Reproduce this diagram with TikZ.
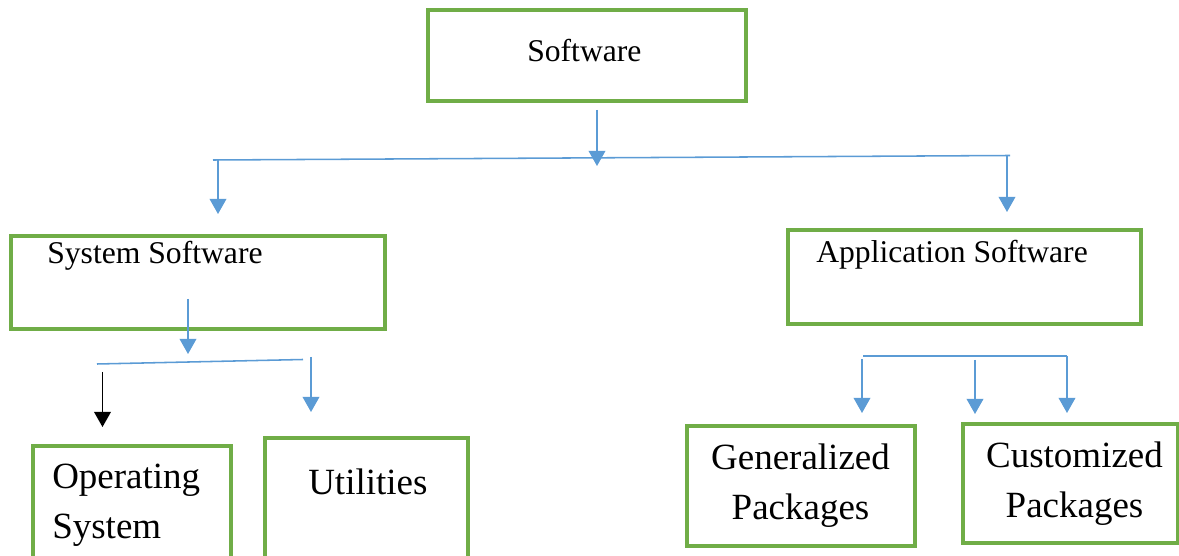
\documentclass[tikz,border=0pt]{standalone}
\usepackage{fontspec}
\setmainfont{Liberation Serif}
\usetikzlibrary{arrows.meta}
\definecolor{boxgreen}{RGB}{112,173,71}
\definecolor{linkblue}{RGB}{91,155,213}

\begin{document}
\begin{tikzpicture}[x=0.025cm,y=-0.025cm,
        box/.style 2 args={draw=boxgreen,line width=2.5pt,minimum width=#1*0.025cm,minimum height=#2*0.025cm,inner sep=0pt},
        txt/.style={inner sep=0pt,anchor=base west,font=\fontsize{22.5}{27}\selectfont},
        bigtxt/.style={inner sep=0pt,align=center,font=\fontsize{26.3}{35.5}\selectfont},
        link/.style={linkblue,line width=1.1pt},
        drop/.style={link,-{Triangle[width=0.42cm,length=0.38cm]}}]
    \useasboundingbox (0,0) rectangle (1179,556);
    \clip (0,0) rectangle (1179,556);

    % boxes
    \node[box={318}{91}] (soft) at (587,55.5) {};
    \node[box={374}{93}] (sys) at (198,282.5) {};
    \node[box={353}{94}] (app) at (964.5,277) {};
    \node[box={198}{154}] (os) at (132,523) {};
    \node[box={203}{162}] (util) at (366.5,519) {};
    \node[box={228}{120}] (gen) at (801,486) {};
    \node[box={215}{119}] (cust) at (1070.5,483.5) {};

    % texts
    \node[txt] (softtxt) at (527,62) {Software};
    \node[txt] (systxt) at (47,264) {System Software};
    \node[txt] (apptxt) at (816,263) {Application Software};
    \node[bigtxt,align=left,anchor=west] (ostxt) at (52,505) {Operating\\System};
    \node[bigtxt,anchor=base west] (utiltxt) at (308,495) {Utilities};
    \node[bigtxt] (gentxt) at (800.5,486) {Generalized\\Packages};
    \node[bigtxt] (custtxt) at (1074.5,484) {Customized\\Packages};

    % junctions
    \coordinate (t0) at (597,110);
    \coordinate (t1) at (597,166);
    \coordinate (bl) at (213,160);
    \coordinate (br) at (1010,155.5);
    \coordinate (s0) at (188,299);
    \coordinate (s1) at (188,354);
    \coordinate (sl) at (97,364);
    \coordinate (sr) at (303,359.5);
    \coordinate (al) at (863,356);
    \coordinate (ar) at (1067,356);

    % top level
    \draw[link] (bl) -- (br);
    \draw[drop] (t0) -- (t1);
    \draw[drop] (218,160) -- (218,214);
    \draw[drop] (1007,155.5) -- (1007,212);

    % system software
    \draw[link] (sl) -- (sr);
    \draw[drop] (s0) -- (s1);
    \draw[black,line width=1.1pt,-{Triangle[width=0.42cm,length=0.38cm]}] (102.5,372) -- (102.5,427);
    \draw[drop] (311,357) -- (311,412);

    % application software
    \draw[link] (al) -- (ar);
    \draw[drop] (862,359) -- (862,413);
    \draw[drop] (975,360) -- (975,414);
    \draw[drop] (ar) -- (1067,413);
\end{tikzpicture}
\end{document}
